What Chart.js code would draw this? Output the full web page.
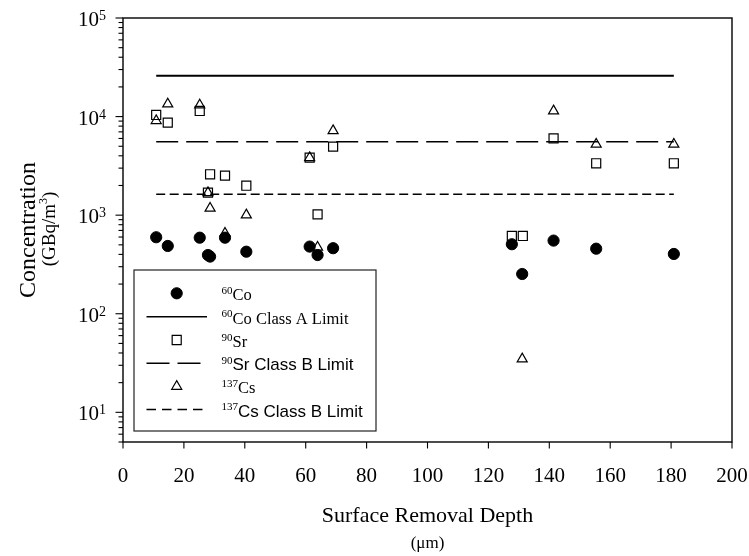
<!DOCTYPE html>
<html><head><meta charset="utf-8">
<script src="https://cdn.jsdelivr.net/npm/chart.js@4.4.1/dist/chart.umd.min.js"></script>
<style>html,body{margin:0;padding:0;background:#fff}canvas{display:block}</style>
</head><body>
<canvas id="c" width="749" height="556"></canvas>
<script>
// ---- data ----
const depthCo = [10.9, 14.7, 25.2, 27.9, 28.6, 33.5, 40.5, 61.3, 63.9, 69.0, 127.7, 131.1, 141.4, 155.4, 180.9];
const co60    = [597, 487, 591, 394, 380, 591, 426, 480, 394, 462, 507, 253, 552, 457, 404];

const depthSr = [10.9, 14.7, 25.2, 27.9, 28.6, 33.5, 40.5, 61.3, 63.9, 69.0, 127.7, 131.3, 141.4, 155.4, 180.9];
const sr90    = [10380, 8670, 11400, 1690, 2600, 2515, 1990, 3830, 1020, 4950, 615, 615, 6020, 3360, 3360];

const depthCs = [10.9, 14.7, 25.2, 27.9, 28.6, 33.5, 40.5, 61.3, 63.9, 69.0, 131.1, 141.4, 155.4, 180.9];
const cs137   = [9090, 13400, 13100, 1690, 1175, 655, 1005, 3830, 472, 7190, 34.8, 11400, 5240, 5240];

const limitRange   = [10.9, 180.9];
const coClassA     = 25900;
const srClassB     = 5550;
const csClassB     = 1630;

const xTickValues  = [0, 20, 40, 60, 80, 100, 120, 140, 160, 180, 200];
const yTickValues  = [10, 100, 1000, 10000, 100000];
const yTickExps    = ['1', '2', '3', '4', '5'];
const yMin = 5, yMax = 100000;

const seriesNames = ['Co', 'Co Class A Limit', 'Sr', 'Sr Class B Limit', 'Cs', 'Cs Class B Limit'];
const seriesSups  = ['60', '60', '90', '90', '137', '137'];

const pts = (xs, ys) => xs.map((v, i) => ({x: v, y: ys[i]}));
const hline = (v) => limitRange.map(x => ({x, y: v}));

const SERIF = '"Liberation Serif", "Times New Roman", serif';
const SANS  = '"Liberation Sans", Arial, sans-serif';

const sty = {
  co: {pointStyle: 'circle', radius: 5.6, borderWidth: 1, bg: '#000'},
  sr: {pointStyle: 'rect', radius: 6.4, borderWidth: 1.2, bg: 'rgba(0,0,0,0)'},
  cs: {pointStyle: 'triangle', radius: 5.8, borderWidth: 1.2, bg: 'rgba(0,0,0,0)'}
};
const dashSr = [22, 8], dashCs = [9, 4.5];

const decor = {
  id: 'decor',
  afterDraw(chart) {
    const {ctx, chartArea: a, scales: {x, y}} = chart;
    ctx.save();
    ctx.strokeStyle = '#000';
    ctx.fillStyle = '#000';
    // frame
    ctx.lineWidth = 1.4;
    ctx.strokeRect(a.left, a.top, a.right - a.left, a.bottom - a.top);
    // y ticks
    ctx.lineWidth = 1.1;
    const minor = [];
    for (let d = 1; d <= 10000; d *= 10) for (let m = 2; m <= 9; m++) minor.push(d * m);
    minor.forEach(v => {
      if (v < yMin || v > yMax) return;
      const py = y.getPixelForValue(v);
      ctx.beginPath(); ctx.moveTo(a.left - 4.5, py); ctx.lineTo(a.left, py); ctx.stroke();
    });
    yTickValues.forEach(v => {
      const py = y.getPixelForValue(v);
      ctx.beginPath(); ctx.moveTo(a.left - 7.5, py); ctx.lineTo(a.left, py); ctx.stroke();
    });
    xTickValues.forEach(v => {
      const px = x.getPixelForValue(v);
      ctx.beginPath(); ctx.moveTo(px, a.bottom); ctx.lineTo(px, a.bottom + 6.5); ctx.stroke();
    });
    // y tick labels
    ctx.textBaseline = 'alphabetic';
    yTickValues.forEach((v, i) => {
      const py = y.getPixelForValue(v);
      ctx.font = '14px ' + SERIF;
      const sw = ctx.measureText(yTickExps[i]).width;
      const right = 106;
      ctx.textAlign = 'left';
      ctx.fillText(yTickExps[i], right - sw, py + 2);
      ctx.font = '21px ' + SERIF;
      ctx.textAlign = 'right';
      ctx.fillText('10', right - sw, py + 8);
    });
    // x tick labels
    ctx.font = '21px ' + SERIF;
    ctx.textAlign = 'center';
    xTickValues.forEach(v => {
      ctx.fillText(String(v), x.getPixelForValue(v), 482);
    });
    // axis titles
    const cx = (a.left + a.right) / 2;
    ctx.font = '22px ' + SERIF;
    ctx.fillText('Surface Removal Depth', cx, 522);
    ctx.font = '17px ' + SERIF;
    ctx.fillText('(\u03bcm)', cx, 548);

    const cy = (a.top + a.bottom) / 2;
    ctx.save();
    ctx.translate(35, cy);
    ctx.rotate(-Math.PI / 2);
    ctx.font = '24px ' + SERIF;
    ctx.textAlign = 'center';
    ctx.fillText('Concentration', 0, 0);
    ctx.restore();
    ctx.save();
    ctx.translate(55, cy - 1);
    ctx.rotate(-Math.PI / 2);
    ctx.font = '19px ' + SERIF;
    const t1 = '(GBq/m', t2 = '3', t3 = ')';
    const w1 = ctx.measureText(t1).width, w3 = ctx.measureText(t3).width;
    ctx.font = '12px ' + SERIF;
    const w2 = ctx.measureText(t2).width;
    let sx = -(w1 + w2 + w3) / 2;
    ctx.textAlign = 'left';
    ctx.font = '19px ' + SERIF; ctx.fillText(t1, sx, 0); sx += w1;
    ctx.font = '12px ' + SERIF; ctx.fillText(t2, sx, -8); sx += w2;
    ctx.font = '19px ' + SERIF; ctx.fillText(t3, sx, 0);
    ctx.restore();

    // legend
    const L = 134, T = 270, R = 376, B = 431;
    ctx.fillStyle = '#fff';
    ctx.fillRect(L, T, R - L, B - T);
    ctx.strokeStyle = '#222';
    ctx.lineWidth = 1.2;
    ctx.strokeRect(L, T, R - L, B - T);
    ctx.strokeStyle = '#000';
    ctx.fillStyle = '#000';
    const rows = [293.3, 316.7, 340, 363.2, 386.4, 409.5];
    const symX = 176.7, lx0 = 146.5, lx1 = 207;
    const drawMark = (s, py) => {
      ctx.save();
      ctx.fillStyle = s.bg; ctx.strokeStyle = '#000';
      ctx.lineWidth = s.borderWidth;
      Chart.helpers.drawPoint(ctx, {pointStyle: s.pointStyle, radius: s.radius, rotation: 0, borderWidth: s.borderWidth}, symX, py);
      ctx.restore();
    };
    const drawLine = (py, dash, lw) => {
      ctx.save(); ctx.setLineDash(dash); ctx.lineWidth = lw;
      ctx.beginPath(); ctx.moveTo(lx0, py); ctx.lineTo(lx1, py); ctx.stroke(); ctx.restore();
    };
    drawMark(sty.co, rows[0]);
    drawLine(rows[1], [], 1.6);
    drawMark(sty.sr, rows[2]);
    drawLine(rows[3], [23, 8], 1.4);
    drawMark(sty.cs, rows[4]);
    drawLine(rows[5], [9.5, 6], 1.4);
    const fonts = [SERIF, SERIF, SERIF, SANS, SERIF, SANS];
    rows.forEach((py, i) => {
      ctx.textAlign = 'left';
      ctx.font = '11px ' + SERIF;
      const tx = 221.5;
      ctx.fillText(seriesSups[i], tx, py + 0.5);
      const sw = ctx.measureText(seriesSups[i]).width;
      ctx.font = (fonts[i] === SANS ? '17px ' : '16.5px ') + fonts[i];
      ctx.fillText(seriesNames[i], tx + sw, py + 7);
    });
    ctx.restore();
  }
};

const mkScatter = (label, data, s, order) => ({
  type: 'scatter', label, data, order,
  pointStyle: s.pointStyle, pointRadius: s.radius, pointHoverRadius: s.radius,
  pointBackgroundColor: s.bg, pointBorderColor: '#000', pointBorderWidth: s.borderWidth,
  showLine: false
});
const mkLine = (label, data, dash, lw, order) => ({
  type: 'line', label, data, order,
  borderColor: '#000', borderWidth: lw, borderDash: dash,
  pointRadius: 0, fill: false, tension: 0
});

new Chart(document.getElementById('c'), {
  data: {
    datasets: [
      mkScatter('60Co', pts(depthCo, co60), sty.co, 1),
      mkLine('60Co Class A Limit', hline(coClassA), [], 2, 4),
      mkScatter('90Sr', pts(depthSr, sr90), sty.sr, 2),
      mkLine('90Sr Class B Limit', hline(srClassB), dashSr, 1.5, 5),
      mkScatter('137Cs', pts(depthCs, cs137), sty.cs, 3),
      mkLine('137Cs Class B Limit', hline(csClassB), dashCs, 1.5, 6)
    ]
  },
  options: {
    responsive: false,
    animation: false,
    devicePixelRatio: 1,
    layout: {padding: {left: 123, right: 17, top: 18, bottom: 114}},
    plugins: {legend: {display: false}, tooltip: {enabled: false}},
    scales: {
      x: {type: 'linear', min: 0, max: 200, display: false},
      y: {type: 'logarithmic', min: yMin, max: yMax, display: false}
    }
  },
  plugins: [decor]
});
</script>
</body></html>
